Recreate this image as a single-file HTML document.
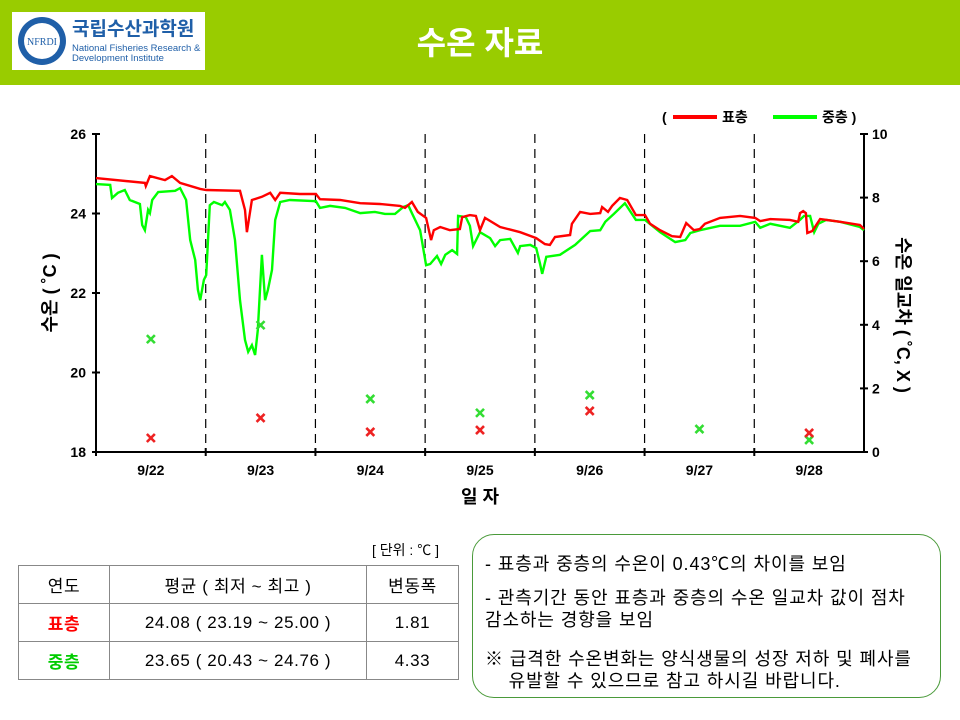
<!DOCTYPE html>
<html><head><meta charset="utf-8">
<style>
body{margin:0;width:960px;height:720px;background:#fff;overflow:hidden;position:relative;font-family:"Liberation Sans","Noto Sans CJK KR",sans-serif;}
.hdr{position:absolute;left:0;top:0;width:960px;height:85px;background:#99cc00;}
.logo{position:absolute;left:12px;top:12px;width:193px;height:58px;background:#fff;}
.title{position:absolute;left:0;width:960px;top:18px;text-align:center;color:#fff;font-size:32px;font-weight:bold;}
table{position:absolute;left:18px;top:565px;border-collapse:collapse;font-size:17px;letter-spacing:0.6px;}
td{border:1.5px solid #888;text-align:center;height:37px;padding:0;}
.note{position:absolute;left:472px;top:534px;width:469px;height:164px;border:1.5px solid #4a9a3a;border-radius:22px;box-sizing:border-box;font-size:18px;letter-spacing:0.9px;color:#000;}
.note div{position:absolute;left:12px;white-space:nowrap;line-height:22px;}
</style></head><body>
<div class="hdr"></div>
<div class="logo">
 <svg width="193" height="58">
  <circle cx="30" cy="29" r="24" fill="#1f5fa8"/><circle cx="30" cy="29" r="18" fill="#fff"/>
  <text x="30" y="33" font-size="10" text-anchor="middle" fill="#1f5fa8" font-family="Liberation Serif">NFRDI</text>
  <text x="60" y="23" font-size="19" font-weight="bold" fill="#1f5fa8" font-family="Liberation Sans,Noto Sans CJK KR,sans-serif">국립수산과학원</text>
  <text x="60" y="39" font-size="9.5" fill="#1f5fa8">National Fisheries Research &amp;</text>
  <text x="60" y="49" font-size="9.5" fill="#1f5fa8">Development Institute</text>
 </svg>
</div>
<div class="title">수온 자료</div>

<svg id="chart" width="960" height="530" style="position:absolute;left:0;top:0"></svg>

<div style="position:absolute;left:372px;top:540px;font-size:14px">[ 단위 : ℃ ]</div>
<table>
<tr><td style="width:90px">연도</td><td style="width:256px">평균 ( 최저 ~ 최고 )</td><td style="width:91px">변동폭</td></tr>
<tr><td style="color:#ff0000;font-weight:bold">표층</td><td>24.08 ( 23.19 ~ 25.00 )</td><td>1.81</td></tr>
<tr><td style="color:#00cc00;font-weight:bold">중층</td><td>23.65 ( 20.43 ~ 24.76 )</td><td>4.33</td></tr>
</table>
<div class="note">
 <div style="top:18px">- 표층과 중층의 수온이 0.43℃의 차이를 보임</div>
 <div style="top:52px">- 관측기간 동안 표층과 중층의 수온 일교차 값이 점차<br>감소하는 경향을 보임</div>
 <div style="top:113px">※ 급격한 수온변화는 양식생물의 성장 저하 및 폐사를<br>&nbsp;&nbsp;&nbsp;&nbsp;유발할 수 있으므로 참고 하시길 바랍니다.</div>
</div>

<script>
const dayLabels=["9/22","9/23","9/24","9/25","9/26","9/27","9/28"];
const leftTicks=[18,20,22,24,26];
const rightTicks=[0,2,4,6,8,10];
const surfHours=[0,10.7,10.9,11.8,15.1,16.6,18.4,22.8,24.1,31.5,32.6,33.0,34.1,36.3,38.1,39.2,40.3,44.6,48.1,49.0,53.4,57.8,62.1,66.5,67.6,69.1,70.4,72.2,73.3,73.9,75.3,77.4,79.6,80.1,81.8,83.1,84.0,85.1,88.4,92.8,96.3,98.2,99.3,100.4,103.7,104.1,105.9,108.1,110.3,110.7,112.0,112.9,114.6,116.2,118.1,120.1,121.2,123.4,126.0,127.8,129.1,130.8,132.1,133.2,136.5,140.9,144.2,145.3,147.5,151.8,153.6,154.0,154.7,155.3,155.6,156.7,158.4,162.8,167.1,168];
const surfTemp=[24.89,24.77,24.69,24.94,24.84,24.94,24.77,24.62,24.59,24.57,24.09,23.53,24.34,24.42,24.52,24.34,24.52,24.49,24.49,24.36,24.34,24.26,24.24,24.19,24.14,24.29,24.04,23.89,23.33,23.58,23.66,23.58,23.61,23.91,23.96,23.94,23.58,23.89,23.66,23.53,23.38,23.23,23.21,23.41,23.46,23.74,24.04,23.99,24.01,24.16,24.04,24.19,24.39,24.34,23.96,23.96,23.74,23.58,23.43,23.41,23.76,23.58,23.61,23.74,23.89,23.94,23.89,23.81,23.86,23.84,23.79,24.01,24.06,24.01,23.51,23.56,23.86,23.79,23.71,23.61];
const midHours=[0,3.1,3.5,4.8,6.3,7.4,9.6,10.1,10.7,11.4,11.8,12.3,13.6,17.3,18.4,19.7,20.6,21.7,22.3,22.8,23.6,24.1,24.9,25.8,27.6,28.2,29.3,30.4,31.5,32.6,33.3,34.1,34.8,35.4,36.3,37.0,37.6,38.5,39.2,40.3,42.4,48.1,49.0,51.2,54.5,57.8,61.0,63.2,65.4,67.2,68.3,69.1,70.9,72.2,73.1,74.6,75.5,76.4,77.9,79.0,79.2,80.9,81.8,82.5,84.0,86.2,87.3,88.4,90.6,92.3,92.8,95.0,96.3,97.1,97.6,98.5,101.5,104.8,108.1,110.3,111.4,113.3,115.7,118.1,120.1,123.4,126.7,128.9,130.0,132.1,136.5,140.9,144.2,145.3,147.5,151.8,154.0,154.9,156.2,157.1,158.0,159.7,162.8,167.1,168];
const midTemp=[24.74,24.72,24.39,24.52,24.59,24.34,24.24,23.71,23.58,24.09,24.01,24.34,24.54,24.57,24.64,24.34,23.33,22.83,22.08,21.82,22.33,22.45,24.21,24.29,24.21,24.29,24.09,23.33,21.82,20.82,20.52,20.69,20.44,21.07,22.96,21.82,22.08,22.58,23.84,24.29,24.34,24.31,24.14,24.19,24.14,24.01,24.04,23.99,23.99,24.16,24.21,24.01,23.58,22.70,22.73,22.93,22.73,22.96,23.08,22.98,23.94,23.91,23.69,23.18,23.53,23.38,23.18,23.33,23.36,23.01,23.18,23.21,23.13,22.75,22.48,22.91,22.96,23.21,23.56,23.58,23.79,23.99,24.26,23.84,23.84,23.53,23.28,23.33,23.51,23.58,23.69,23.69,23.79,23.64,23.74,23.64,23.84,23.94,23.94,23.53,23.74,23.84,23.79,23.66,23.58];
const surfRange=[0.44,1.07,0.63,0.69,1.29,null,0.60];
const midRange=[3.55,3.99,1.67,1.23,1.79,0.72,0.38];

const X0=96,X1=864,Y0=452,Y1=134;
const xH=h=>X0+(X1-X0)*h/168;
const yL=t=>Y0-(Y0-Y1)*(t-18)/8;
const yR=v=>Y0-(Y0-Y1)*v/10;
const svg=document.getElementById('chart');
const NS='http://www.w3.org/2000/svg';
function mk(tag,attrs,txt,parent){const e=document.createElementNS(NS,tag);for(const k in attrs)e.setAttribute(k,attrs[k]);if(txt!=null)e.textContent=txt;(parent||svg).appendChild(e);return e;}
let e=mk('line',{x1:X0,y1:Y1,x2:X0,y2:Y0,stroke:'#000','stroke-width':2});


e=mk('line',{x1:X1,y1:Y1,x2:X1,y2:Y0,stroke:'#000','stroke-width':2});


e=mk('line',{x1:X0,y1:Y0,x2:X1,y2:Y0,stroke:'#000','stroke-width':2});


leftTicks.forEach(t=>{const y=yL(t);mk('line',{x1:X0-4,y1:y,x2:X0+4,y2:y,stroke:'#000','stroke-width':2});
 e=mk('text',{x:X0-10,y:y+5,'text-anchor':'end','font-size':14,'font-weight':'bold'},t);
 
 });
rightTicks.forEach(v=>{const y=yR(v);mk('line',{x1:X1-4,y1:y,x2:X1+4,y2:y,stroke:'#000','stroke-width':2});
 e=mk('text',{x:X1+8,y:y+5,'font-size':14,'font-weight':'bold'},v);
 
 });
dayLabels.forEach((d,i)=>{
 if(i>0){e=mk('line',{x1:xH(i*24),y1:Y1,x2:xH(i*24),y2:Y0,stroke:'#000','stroke-width':1.2,'stroke-dasharray':'9,6'});
  
  }
 mk('line',{x1:xH(i*24),y1:Y0-4,x2:xH(i*24),y2:Y0+4,stroke:'#000','stroke-width':2});
 e=mk('text',{x:xH(i*24+12),y:Y0+23,'text-anchor':'middle','font-size':14,'font-weight':'bold'},d);
 
 });
function line(hs,ts,col,name){const p=hs.map((h,i)=>xH(h).toFixed(1)+','+yL(ts[i]).toFixed(1)).join(' ');
 const el=mk('polyline',{points:p,fill:'none',stroke:col,'stroke-width':2.4,'stroke-linejoin':'miter'});
 
 }
line(midHours,midTemp,'#00ff00','mid-layer-line');
line(surfHours,surfTemp,'#ff0000','surface-layer-line');
function cross(vals,col,name){vals.forEach((v,i)=>{if(v==null)return;const x=xH(i*24+12),y=yR(v),s=4;
 const g=mk('g',{stroke:col,'stroke-width':2.6});
 
 
 mk('line',{x1:x-s,y1:y-s,x2:x+s,y2:y+s},null,g);
 mk('line',{x1:x-s,y1:y+s,x2:x+s,y2:y-s},null,g);});}
cross(midRange,'#33dd33','mid-range-marker');
cross(surfRange,'#ee2222','surface-range-marker');
e=mk('text',{x:480,y:503,'text-anchor':'middle','font-size':18,'font-weight':'bold'},'일  자');


e=mk('text',{x:0,y:0,'text-anchor':'middle','font-size':18,'font-weight':'bold',transform:'translate(56,293) rotate(-90)'},'수온 ( ˚C )');


e=mk('text',{x:0,y:0,'text-anchor':'middle','font-size':18,'font-weight':'bold',transform:'translate(897,315) rotate(90)'},'수온 일교차 ( ˚C, X )');


e=mk('text',{x:662,y:122,'font-size':14,'font-weight':'bold'},'(');
mk('line',{x1:673,y1:117,x2:717,y2:117,stroke:'#ff0000','stroke-width':4});
e=mk('text',{x:722,y:122,'font-size':14,'font-weight':'bold'},'표층');


mk('line',{x1:773,y1:117,x2:817,y2:117,stroke:'#00ff00','stroke-width':4});
e=mk('text',{x:822,y:122,'font-size':14,'font-weight':'bold'},'중층   )');


</script>
</body></html>
